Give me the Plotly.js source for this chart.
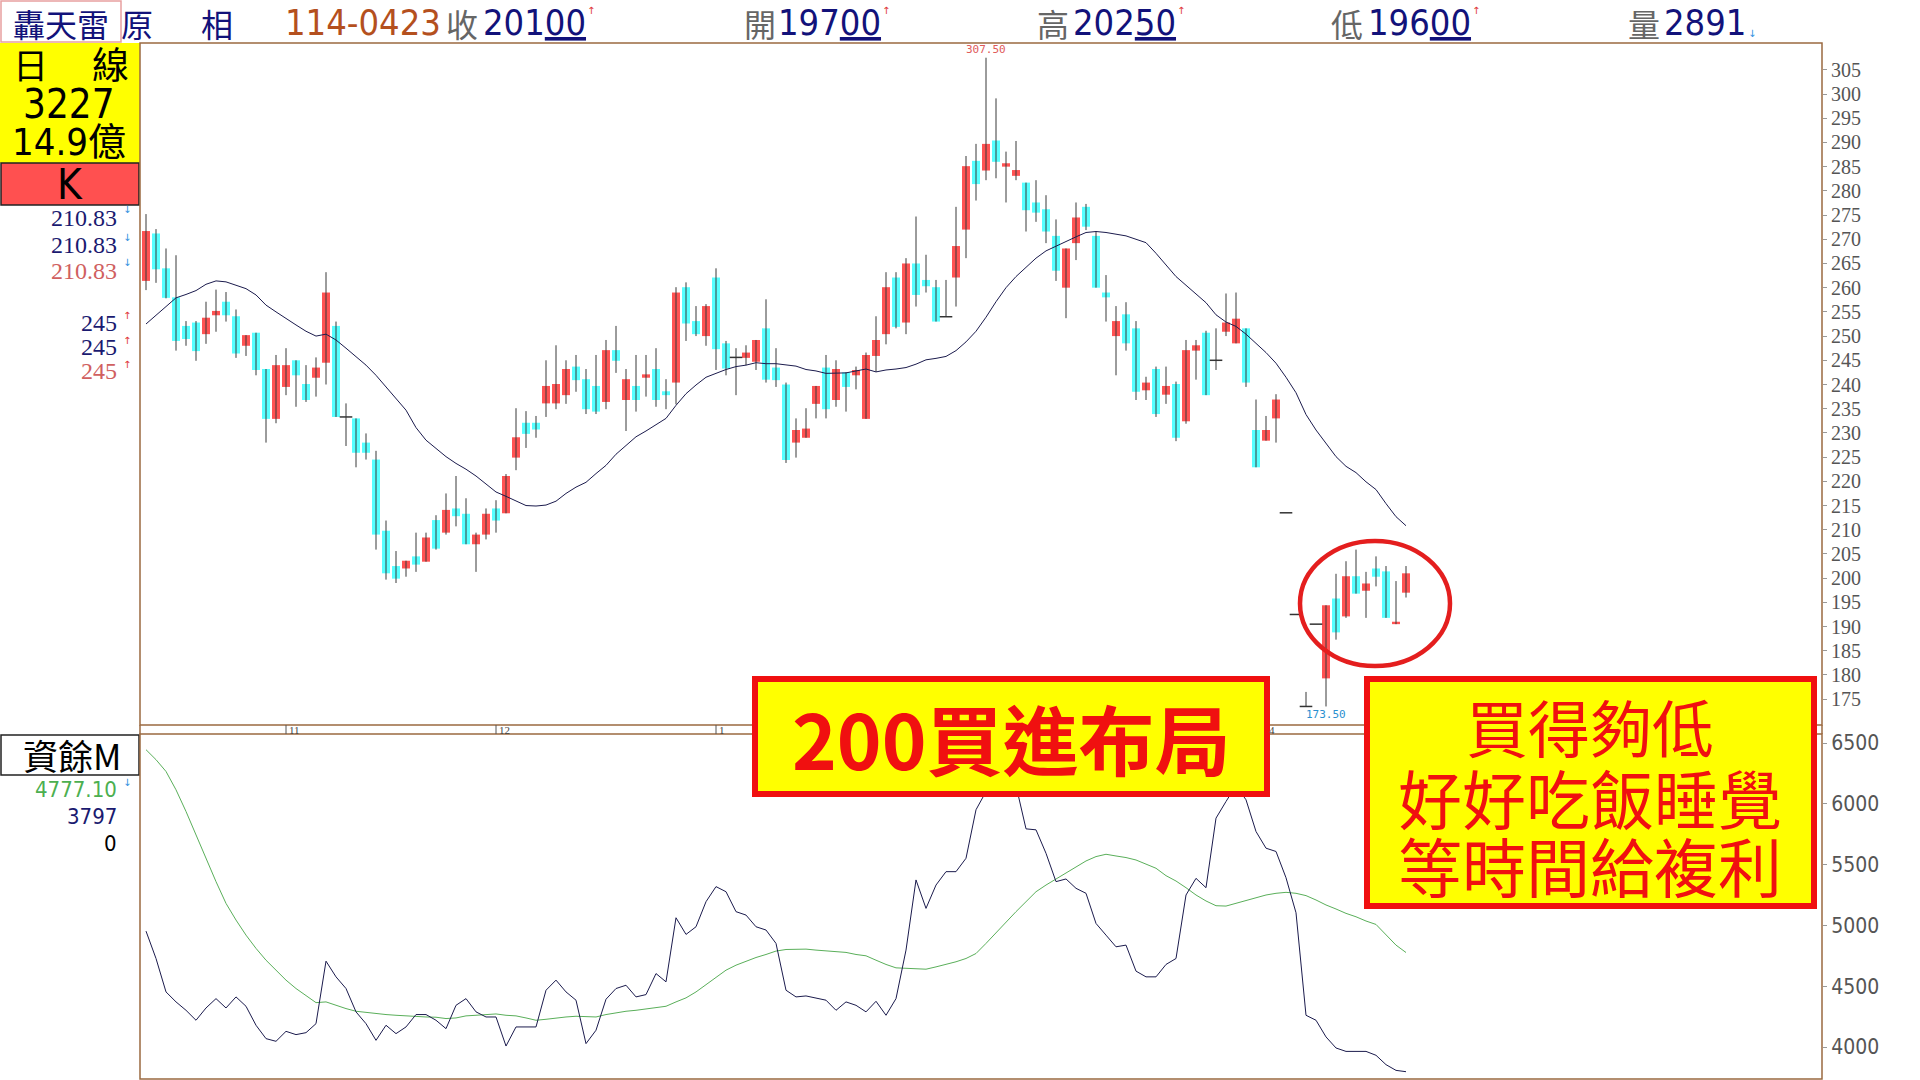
<!DOCTYPE html>
<html>
<head>
<meta charset="utf-8">
<script src="https://cdn.plot.ly/plotly-3.0.1.min.js"></script>
<style>html,body{margin:0;padding:0;background:#fff;}#chart{width:1920px;height:1080px;}</style>
</head>
<body>
<div id="chart"></div>
<script>
// ---------------- DATA ----------------
const openP = [261.4,271.2,264.0,258.0,252.1,252.8,250.4,254.3,257.1,254.1,
248.0,250.7,243.2,232.9,239.5,245.0,240.1,241.4,244.5,252.1,
233.3,233.0,228.0,224.5,209.8,202.5,202.0,204.5,203.4,212.0,
209.4,214.4,213.3,207.0,209.0,214.4,213.4,224.9,232.1,232.1,
236.1,236.1,237.8,243.7,241.1,239.7,236.4,247.1,236.8,239.7,
241.4,243.2,238.6,240.4,260.1,253.1,250.0,262.1,248.5,245.6,
245.5,244.7,251.6,243.5,240.0,228.0,229.0,236.0,243.5,236.8,
242.5,241.9,232.9,245.9,250.4,262.1,252.8,265.0,261.6,260.1,
254.0,262.1,272.0,286.2,284.2,290.4,285.0,283.1,281.7,277.6,
276.2,270.7,260.0,269.2,276.7,270.7,259.0,250.0,254.5,251.6,
238.8,243.2,237.9,240.1,232.4,247.0,250.7,245.0,250.9,248.5,
251.6,230.6,228.4,233.0,213.5,192.5,173.5,190.5,179.3,195.8,
192.1,200.4,197.4,202.0,201.4,190.5,197.0];
const highP = [275.2,272.1,268.1,266.7,253.1,253.1,257.1,259.6,259.1,255.5,
250.2,250.7,243.2,246.1,247.5,245.0,244.0,245.6,263.2,253.0,
236.1,233.0,229.9,226.3,211.9,205.6,203.6,209.4,209.4,213.0,
217.5,221.1,216.5,209.4,214.4,216.1,221.5,235.1,234.5,233.5,
245.0,248.1,245.0,246.1,243.2,246.1,249.2,252.1,243.2,246.1,
246.1,247.5,241.1,260.1,261.1,256.2,256.6,264.0,249.0,247.5,
248.1,249.2,257.6,247.5,240.4,233.0,235.1,239.7,246.1,245.0,
242.5,243.7,246.6,254.1,263.2,263.2,266.1,274.7,266.8,261.6,
261.6,276.7,287.2,289.7,307.5,299.1,288.1,290.3,281.7,282.2,
279.1,274.1,268.1,277.6,277.3,271.6,262.6,256.2,257.0,253.1,
241.6,243.7,243.7,240.6,249.2,249.2,251.1,251.6,258.8,259.0,
251.6,236.9,233.5,238.0,213.5,192.5,176.5,190.5,194.4,200.9,
203.5,205.9,201.3,204.5,202.5,199.4,202.5];
const lowP = [259.5,261.0,257.8,247.0,248.0,244.9,248.4,250.9,253.0,245.5,
245.9,241.9,228.0,232.0,237.8,235.4,236.4,237.5,240.0,233.3,
227.3,222.9,224.5,205.9,199.7,199.0,200.3,201.3,203.4,205.9,
209.0,210.7,207.0,201.3,208.0,209.4,213.4,222.3,226.9,229.0,
233.3,234.9,236.0,238.5,233.9,233.9,234.9,242.4,230.4,234.4,
237.5,235.4,234.9,235.9,249.0,250.0,248.0,243.0,241.9,237.8,
244.0,243.0,240.4,239.5,223.8,224.9,229.0,233.0,233.0,235.4,
234.4,239.0,232.9,242.6,248.3,251.6,250.4,256.1,259.0,253.0,
254.0,256.1,266.1,278.0,282.2,282.6,277.6,282.2,271.6,273.6,
269.2,261.4,253.7,265.7,271.9,260.0,253.0,241.9,247.0,236.8,
236.8,233.3,236.0,228.3,231.9,241.0,237.8,243.0,250.0,248.5,
239.5,222.9,228.4,228.0,213.5,192.5,173.5,190.5,173.5,187.3,
191.8,196.8,191.8,198.3,191.8,190.5,196.0];
const closeP = [271.7,263.8,257.9,249.0,249.4,246.9,253.8,255.2,254.3,246.4,
250.2,243.0,232.9,244.0,244.0,241.9,236.8,243.5,259.0,233.3,
233.3,225.9,225.9,209.0,201.0,199.9,203.6,202.8,208.4,206.1,
214.1,212.8,207.0,209.0,213.3,211.9,221.1,229.1,229.8,230.7,
239.7,240.1,243.2,240.9,234.9,234.4,247.1,244.9,241.1,236.8,
242.1,236.8,237.8,259.0,252.6,250.4,256.2,247.3,243.3,245.6,
246.6,249.2,241.0,240.9,224.4,230.6,230.9,239.7,234.9,243.2,
239.5,243.0,246.1,249.2,260.1,251.9,265.0,258.5,260.3,253.0,
254.0,268.6,285.1,281.4,289.7,286.0,285.7,284.3,276.0,275.5,
271.6,263.5,268.1,274.5,272.6,260.0,258.0,253.1,248.5,238.5,
240.4,233.9,239.7,229.0,247.1,248.1,237.8,245.0,252.8,253.6,
240.4,222.9,230.6,236.9,213.5,192.5,173.5,190.5,194.4,188.8,
200.4,196.8,198.9,200.3,191.8,191.0,201.0];
const ma20 = [252.5,254.3,256.2,257.9,258.6,259.4,260.7,261.4,261.2,260.5,
259.8,258.5,256.4,255.0,253.6,252.3,251.0,250.0,250.4,249.2,
247.5,245.7,244.0,241.9,239.5,237.1,234.7,231.1,228.5,226.8,
225.1,223.7,222.5,221.1,219.4,217.8,216.9,215.9,215.0,214.9,
215.1,215.9,217.5,218.8,219.8,221.6,223.3,225.6,227.5,229.2,
230.4,231.7,233.0,235.7,238.1,239.9,241.5,242.3,243.1,243.7,
244.0,244.5,244.3,244.3,244.1,243.8,243.1,242.8,242.3,242.4,
242.4,242.8,243.2,242.6,243.0,243.2,243.5,244.2,245.1,245.4,
245.8,247.0,248.8,251.0,253.9,257.1,260.0,262.3,264.1,266.1,
267.6,268.6,269.5,270.5,271.4,271.6,271.4,271.1,270.7,270.0,
269.3,267.1,264.7,262.3,260.5,258.8,256.9,254.4,252.9,252.0,
250.4,248.5,246.6,244.4,241.5,238.3,233.8,230.6,227.8,225.1,
223.1,221.8,219.9,218.3,215.4,212.7,210.83];
const balance = [4953,4728,4453,4371,4302,4220,4321,4398,4321,4412,
4335,4179,4069,4047,4129,4102,4118,4192,4706,4577,
4481,4289,4192,4055,4179,4110,4165,4267,4267,4220,
4151,4343,4398,4289,4247,4247,4008,4165,4165,4165,
4467,4550,4453,4385,4028,4138,4393,4481,4508,4412,
4431,4604,4536,5063,4926,4989,5195,5319,5277,5113,
5085,4989,4962,4852,4467,4412,4420,4404,4385,4302,
4371,4343,4289,4376,4261,4398,4797,5374,5140,5332,
5442,5442,5552,5951,6100,6250,6280,6150,5794,5786,
5593,5360,5382,5305,5264,5016,4920,4824,4838,4624,
4577,4577,4679,4728,5250,5387,5310,5882,6019,6150,
6033,5772,5635,5608,5392,5104,4261,4220,4083,3992,
3964,3964,3964,3932,3855,3808,3797];
const balanceMA = [6445,6363,6266,6115,5937,5744,5552,5360,5181,5044,
4920,4811,4714,4632,4550,4481,4420,4365,4371,4343,
4316,4294,4283,4272,4267,4261,4256,4247,4247,4245,
4234,4239,4256,4261,4269,4272,4261,4256,4239,4220,
4228,4239,4247,4253,4253,4247,4267,4283,4294,4302,
4311,4322,4335,4371,4404,4453,4514,4577,4632,4673,
4706,4736,4761,4789,4802,4805,4805,4797,4789,4783,
4778,4761,4750,4714,4679,4651,4646,4640,4640,4659,
4679,4701,4728,4769,4852,4942,5030,5113,5195,5277,
5332,5382,5429,5484,5530,5566,5585,5571,5558,5538,
5503,5470,5409,5365,5310,5250,5201,5162,5159,5181,
5201,5228,5250,5264,5272,5264,5245,5209,5168,5135,
5099,5071,5036,5008,4920,4838,4777.10];
// month boundaries (ticks) and the month labels that are visible
const monthTickIdx = [14, 35, 57, 72, 91, 112];
const monthLabelIdx = [14, 35, 57, 112];
const monthLabelText = ['11', '12', '1', '4'];
const priceTicks = [175,180,185,190,195,200,205,210,215,220,225,230,235,240,245,250,255,260,265,270,275,280,285,290,295,300,305];
const balanceTicks = [4000,4500,5000,5500,6000,6500];

// ---------------- HELPERS ----------------
const W = 1920, H = 1080;
const px = v => v / W, py = v => 1 - v / H;
const CJK = 'Noto Sans CJK TC';
const NARROW = 'DejaVu Sans Condensed, Liberation Sans Narrow, sans-serif';
const SERIF = 'Liberation Serif, DejaVu Serif, serif';
const NAVY = '#12127A', GRAY = '#666666', FRAME = '#9B6A40';
const RED = '#FF5252', CYAN = '#55FFFF';
const N = closeP.length;
const idx = closeP.map((_, i) => i);

// ---------------- TRACES ----------------
const wx = [], wy = [];
idx.forEach(i => { if (highP[i] > lowP[i]) { wx.push(i, i, null); wy.push(lowP[i], highP[i], null); } });
const upI = idx.filter(i => closeP[i] > openP[i]);
const dnI = idx.filter(i => closeP[i] < openP[i]);
const djI = idx.filter(i => closeP[i] === openP[i]);

const data = [
  {type:'scatter', mode:'lines', x:wx, y:wy, line:{color:'#383838', width:1}, hoverinfo:'skip', xaxis:'x', yaxis:'y'},
  {type:'bar', x:upI, base:upI.map(i=>openP[i]), y:upI.map(i=>closeP[i]-openP[i]), width:0.8,
   marker:{color:RED, line:{width:0}}, xaxis:'x', yaxis:'y'},
  {type:'bar', x:dnI, base:dnI.map(i=>closeP[i]), y:dnI.map(i=>openP[i]-closeP[i]), width:0.8,
   marker:{color:CYAN, line:{width:0}}, xaxis:'x', yaxis:'y'},
  {type:'scatter', mode:'markers', x:djI, y:djI.map(i=>closeP[i]),
   marker:{symbol:'line-ew', size:9, line:{color:'#333', width:1.5}}, xaxis:'x', yaxis:'y'},
  {type:'scatter', mode:'lines', x:idx, y:ma20, line:{color:'#1B1B4D', width:1}, xaxis:'x', yaxis:'y'},
  {type:'scatter', mode:'lines', x:idx, y:balanceMA, line:{color:'#5AAF5A', width:1}, xaxis:'x2', yaxis:'y2'},
  {type:'scatter', mode:'lines', x:idx, y:balance, line:{color:'#1B1B4D', width:1}, xaxis:'x2', yaxis:'y2'}
];

// ---------------- LAYOUT ----------------
const xDom = [px(140), px(1822)];
const xRange = [-0.6, 167.6];
const axisFont = {family:SERIF, size:20, color:'#555'};

const shapes = [
  {type:'rect', xref:'paper', yref:'paper', x0:0, x1:px(140), y0:py(163), y1:py(43), fillcolor:'#FFFF00', line:{width:0}},
  {type:'rect', xref:'paper', yref:'paper', x0:px(1), x1:px(139), y0:py(205), y1:py(163), fillcolor:'#FF5050', line:{color:'#222', width:1.5}},
  {type:'rect', xref:'paper', yref:'paper', x0:px(1), x1:px(139), y0:py(775), y1:py(735), fillcolor:'#FFFFFF', line:{color:'#222', width:1.5}},
  {type:'rect', xref:'paper', yref:'paper', x0:px(1), x1:px(121), y0:py(42), y1:py(1), line:{color:'#E8A0A0', width:1.5}},
  {type:'rect', xref:'paper', yref:'paper', x0:px(140), x1:px(1822), y0:py(725), y1:py(43), line:{color:FRAME, width:1.5}},
  {type:'rect', xref:'paper', yref:'paper', x0:px(140), x1:px(1822), y0:py(1079), y1:py(734), line:{color:FRAME, width:1.5}},
  {type:'line', xref:'paper', yref:'paper', x0:px(140), x1:px(140), y0:py(725), y1:py(734), line:{color:FRAME, width:1.5}},
  {type:'line', xref:'paper', yref:'paper', x0:px(1822), x1:px(1822), y0:py(725), y1:py(734), line:{color:FRAME, width:1.5}}
];
monthTickIdx.forEach(i => shapes.push({type:'line', xref:'x', yref:'paper', x0:i, x1:i, y0:py(734), y1:py(725), line:{color:'#555', width:1}}));
shapes.push({type:'circle', xref:'paper', yref:'paper', x0:px(1300), x1:px(1450), y0:py(666), y1:py(541), line:{color:'#E41E1E', width:4.5}, layer:'above'});
shapes.push({type:'rect', xref:'paper', yref:'paper', x0:px(755), x1:px(1267), y0:py(794), y1:py(679), fillcolor:'#FFFF00', line:{color:'#F01010', width:6}, layer:'above'});
shapes.push({type:'rect', xref:'paper', yref:'paper', x0:px(1367), x1:px(1814), y0:py(906), y1:py(679), fillcolor:'#FFFF00', line:{color:'#F01010', width:6}, layer:'above'});

function A(text, x, y, font, o) {
  return Object.assign({text:text, x:px(x), y:py(y), xref:'paper', yref:'paper', showarrow:false,
    xanchor:'center', yanchor:'middle', font:font}, o || {});
}
const hdrCJK = c => ({family:CJK, size:32, color:c});
const hdrNum = c => ({family:NARROW, size:36, color:c});
const arrowUp = {family:'DejaVu Sans', size:10, color:'#E03A3A'};
const arrowDn = {family:'DejaVu Sans', size:10, color:'#2F8FE0'};
const HC = 23, HN = 23;

const annotations = [
  // header
  A('轟天雷', 61, HC, hdrCJK(NAVY)),
  A('原', 137, HC, hdrCJK(NAVY)),
  A('相', 217, HC, hdrCJK(NAVY)),
  A('114-0423', 283, HN, hdrNum('#B4501E'), {xanchor:'left'}),
  A('收', 444, HC, hdrCJK(GRAY), {xanchor:'left'}),
  A('201<u>00</u>', 481, HN, hdrNum(NAVY), {xanchor:'left'}),
  A('↑', 591, 10, arrowUp),
  A('開', 742, HC, hdrCJK(GRAY), {xanchor:'left'}),
  A('197<u>00</u>', 776, HN, hdrNum(NAVY), {xanchor:'left'}),
  A('↑', 886, 10, arrowUp),
  A('高', 1035, HC, hdrCJK(GRAY), {xanchor:'left'}),
  A('202<u>50</u>', 1071, HN, hdrNum(NAVY), {xanchor:'left'}),
  A('↑', 1181, 10, arrowUp),
  A('低', 1329, HC, hdrCJK(GRAY), {xanchor:'left'}),
  A('196<u>00</u>', 1366, HN, hdrNum(NAVY), {xanchor:'left'}),
  A('↑', 1476, 10, arrowUp),
  A('量', 1626, HC, hdrCJK(GRAY), {xanchor:'left'}),
  A('2891', 1662, HN, hdrNum(NAVY), {xanchor:'left'}),
  A('↓', 1752, 34, arrowDn),
  // left panel
  A('日', 30, 64, {family:CJK, size:35, color:'#000'}),
  A('線', 110, 63, {family:CJK, size:37, color:'#000'}),
  A('3227', 69, 104, {family:NARROW, size:40, color:'#000'}),
  A('14.9億', 69, 142, {family:NARROW + ', ' + CJK, size:38, color:'#000'}),
  A('K', 70, 184, {family:NARROW, size:42, color:'#000'}),
  A(ma20[N-1].toFixed(2), 119, 218, {family:SERIF, size:24, color:'#1A1A70'}, {xanchor:'right'}),
  A(ma20[N-1].toFixed(2), 119, 245, {family:SERIF, size:24, color:'#1A1A70'}, {xanchor:'right'}),
  A(ma20[N-1].toFixed(2), 119, 271, {family:SERIF, size:24, color:'#D06060'}, {xanchor:'right'}),
  A('↓', 127, 210, arrowDn), A('↓', 127, 237, arrowDn), A('↓', 127, 263, arrowDn),
  A('245', 119, 323, {family:SERIF, size:24, color:'#1A1A70'}, {xanchor:'right'}),
  A('245', 119, 347, {family:SERIF, size:24, color:'#1A1A70'}, {xanchor:'right'}),
  A('245', 119, 371, {family:SERIF, size:24, color:'#D06060'}, {xanchor:'right'}),
  A('↑', 127, 316, arrowUp), A('↑', 127, 340, arrowUp), A('↑', 127, 364, arrowUp),
  A('資餘M', 72, 754, {family:CJK, size:35, color:'#000'}),
  A(balanceMA[N-1].toFixed(2), 119, 789, {family:NARROW, size:22, color:'#4CAF50'}, {xanchor:'right'}),
  A('↓', 127, 782, arrowDn),
  A(String(balance[N-1]), 119, 816, {family:NARROW, size:22, color:'#1A1A70'}, {xanchor:'right'}),
  A('0', 119, 843, {family:NARROW, size:22, color:'#000'}, {xanchor:'right'})
];
monthLabelIdx.forEach((i, k) => annotations.push({text:monthLabelText[k], x:i, y:py(730), xref:'x', yref:'paper',
  showarrow:false, xanchor:'left', yanchor:'middle', xshift:1, font:{family:SERIF, size:11, color:'#444'}}));
const maxH = Math.max(...highP), minL = Math.min(...lowP);
annotations.push({text:maxH.toFixed(2), x:highP.indexOf(maxH), y:maxH, xref:'x', yref:'y', showarrow:false,
  xanchor:'center', yanchor:'bottom', font:{family:'DejaVu Sans Mono', size:11, color:'#E05A5A'}});
annotations.push({text:minL.toFixed(2), x:lowP.lastIndexOf(minL), y:minL, xref:'x', yref:'y', showarrow:false,
  xanchor:'center', yanchor:'top', font:{family:'DejaVu Sans Mono', size:11, color:'#2A8FD0'}});
annotations.push(A('<b>200買進布局</b>', 1011, 737, {family:CJK, size:76, color:'#F01010'}));
annotations.push(A('買得夠低', 1590, 726, {family:CJK, size:62, color:'#F01010'}));
annotations.push(A('好好吃飯睡覺', 1590, 796, {family:CJK, size:64, color:'#F01010'}));
annotations.push(A('等時間給複利', 1590, 864, {family:CJK, size:64, color:'#F01010'}));

const layout = {
  width:W, height:H, margin:{l:0, r:0, t:0, b:0},
  paper_bgcolor:'#FFFFFF', plot_bgcolor:'#FFFFFF',
  showlegend:false, hovermode:false, barmode:'overlay',
  xaxis:{domain:xDom, range:xRange, anchor:'y', showgrid:false, zeroline:false, showticklabels:false, ticks:'', showline:false},
  xaxis2:{domain:xDom, range:xRange, anchor:'y2', showgrid:false, zeroline:false, showticklabels:false, ticks:'', showline:false},
  yaxis:{domain:[py(725), py(43)], range:[169.67, 310.54], anchor:'x', side:'right', showgrid:false, zeroline:false,
    tickmode:'array', tickvals:priceTicks, ticktext:priceTicks.map(String), ticks:'outside', ticklen:4, tickcolor:'#999',
    tickfont:axisFont, showline:false},
  yaxis2:{domain:[py(1079), py(734)], range:[3737, 6574], anchor:'x2', side:'right', showgrid:false, zeroline:false,
    tickmode:'array', tickvals:balanceTicks, ticktext:balanceTicks.map(String), ticks:'outside', ticklen:4, tickcolor:'#999',
    tickfont:{family:NARROW, size:21, color:'#555'}, showline:false},
  shapes:shapes,
  annotations:annotations
};

Plotly.newPlot('chart', data, layout, {staticPlot:true, displayModeBar:false});
</script>
</body>
</html>
